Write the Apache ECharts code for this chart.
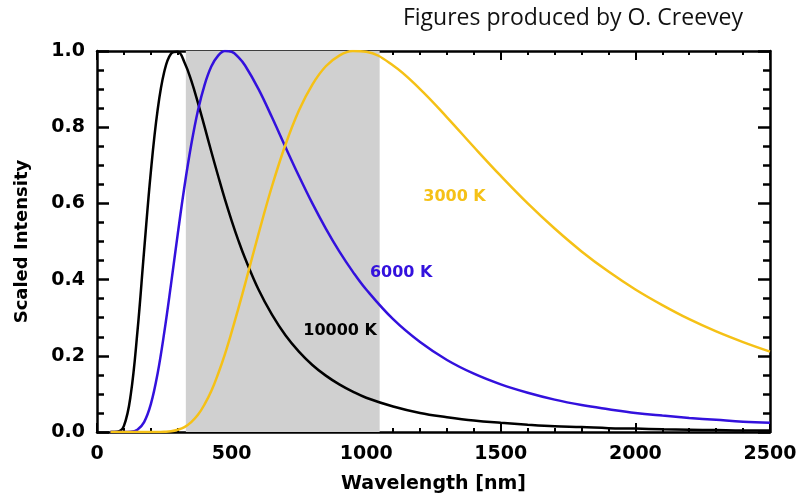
<!DOCTYPE html>
<html>
<head>
<meta charset="utf-8">
<script src="https://cdn.jsdelivr.net/npm/echarts@6/dist/echarts.min.js"></script>
<style>
  html, body { margin: 0; padding: 0; background: #fff; }
  #chart { width: 801px; height: 504px; }
</style>
</head>
<body>
<div id="chart"></div>
<script>
// Wavelength grid (nm)
const wavelength = [50, 75, 100, 125, 150, 175, 200, 225, 250, 275, 300, 325, 350, 375, 400, 425, 450, 475, 500, 525, 550,
  600, 650, 700, 750, 800, 850, 900, 950, 1000, 1100, 1200, 1300, 1400, 1500, 1600, 1700, 1800, 1900, 2000,
  2100, 2200, 2300, 2400, 2500];

// Peak-scaled black-body intensity at each wavelength
const intensity10000K = [0, 0.0006, 0.016, 0.096, 0.262, 0.476, 0.683, 0.844, 0.946, 0.993, 0.998, 0.970, 0.923, 0.864, 0.800, 0.735, 0.672, 0.611, 0.555, 0.503, 0.456,
  0.374, 0.308, 0.254, 0.211, 0.176, 0.148, 0.125, 0.106, 0.090, 0.067, 0.050, 0.039, 0.030, 0.024, 0.019, 0.015, 0.013, 0.010, 0.009,
  0.007, 0.006, 0.005, 0.004, 0.004];
const intensity6000K = [0, 0, 0, 0.0006, 0.006, 0.026, 0.073, 0.153, 0.262, 0.388, 0.520, 0.645, 0.754, 0.844, 0.912, 0.960, 0.988, 1.000, 0.998, 0.984, 0.962,
  0.900, 0.826, 0.748, 0.672, 0.600, 0.534, 0.474, 0.421, 0.374, 0.296, 0.236, 0.189, 0.153, 0.125, 0.103, 0.085, 0.071, 0.060, 0.050,
  0.043, 0.037, 0.032, 0.027, 0.024];
const intensity3000K = [0, 0, 0, 0, 0, 0, 0, 0, 0.0006, 0.002, 0.006, 0.013, 0.026, 0.045, 0.073, 0.108, 0.153, 0.204, 0.262, 0.324, 0.388,
  0.520, 0.645, 0.754, 0.844, 0.912, 0.960, 0.988, 1.000, 0.998, 0.962, 0.900, 0.826, 0.748, 0.672, 0.600, 0.534, 0.474, 0.421, 0.374,
  0.333, 0.296, 0.264, 0.236, 0.211];

// Shaded passband (nm)
const bandStart = 330;
const bandEnd = 1050;

// Curve labels: text, wavelength, intensity
const labelTexts = ['3000 K', '6000 K', '10000 K'];
const labelWavelength = [1328, 1130, 903];
const labelIntensity = [0.616, 0.418, 0.266];

const xTicks = { min: 0, max: 2500, interval: 500 };
const yTicks = { min: 0, max: 1.0, interval: 0.2 };

const BLACK = '#000000';
const BLUE = '#3311dd';
const GOLD = '#f5c116';
const labelColors = [GOLD, BLUE, BLACK];
const FONT = 'DejaVu Sans';

function pairs(vals) { return wavelength.map((w, i) => [w, vals[i]]); }

const chart = echarts.init(document.getElementById('chart'), null, { renderer: 'canvas' });

const axisLineStyle = { color: '#000', width: 2.5 };

function curve(name, vals, color, z) {
  return {
    name: name,
    type: 'line',
    data: pairs(vals),
    smooth: 0.4,
    showSymbol: false,
    symbol: 'none',
    clip: true,
    z: z,
    lineStyle: { color: color, width: 2.5 }
  };
}

const tickLabel = { fontFamily: FONT, fontWeight: 'bold', fontSize: 19, color: '#000' };

chart.setOption({
  animation: false,
  backgroundColor: '#fff',
  title: {
    text: 'Figures produced by O. Creevey',
    right: 53,
    top: 2,
    textStyle: { fontFamily: 'Open Sans', fontWeight: 'normal', fontSize: 23, color: '#111' }
  },
  grid: { left: 97, right: 31, top: 51, bottom: 72 },
  xAxis: [{
    type: 'value',
    min: xTicks.min, max: xTicks.max, interval: xTicks.interval,
    name: 'Wavelength [nm]',
    nameLocation: 'middle',
    nameGap: 43,
    nameTextStyle: { fontFamily: FONT, fontWeight: 'bold', fontSize: 19, color: '#000' },
    axisLine: { show: true, onZero: false, lineStyle: axisLineStyle },
    axisTick: { show: true, inside: true, length: 9, lineStyle: { color: '#000', width: 2 } },
    minorTick: { show: true, splitNumber: 5, length: 4, lineStyle: { color: '#000', width: 2 } },
    axisLabel: Object.assign({ margin: 13, showMinLabel: true, showMaxLabel: true, formatter: v => String(v) }, tickLabel),
    splitLine: { show: false }
  }, {
    type: 'value',
    position: 'top',
    min: xTicks.min, max: xTicks.max, interval: xTicks.interval,
    axisLine: { show: true, onZero: false, lineStyle: axisLineStyle },
    axisTick: { show: true, inside: true, length: 9, lineStyle: { color: '#000', width: 2 } },
    minorTick: { show: true, splitNumber: 5, length: 4, lineStyle: { color: '#000', width: 2 } },
    axisLabel: { show: false },
    splitLine: { show: false }
  }],
  yAxis: [{
    type: 'value',
    min: yTicks.min, max: yTicks.max, interval: yTicks.interval,
    name: 'Scaled Intensity',
    nameLocation: 'middle',
    nameGap: 66,
    nameRotate: 90,
    nameTextStyle: { fontFamily: FONT, fontWeight: 'bold', fontSize: 18, color: '#000' },
    axisLine: { show: true, onZero: false, lineStyle: axisLineStyle },
    axisTick: { show: true, inside: true, length: 12, lineStyle: { color: '#000', width: 2.5 } },
    minorTick: { show: true, splitNumber: 4, length: 7, lineStyle: { color: '#000', width: 2.5 } },
    axisLabel: Object.assign({ margin: 12, formatter: v => v.toFixed(1) }, tickLabel),
    splitLine: { show: false }
  }, {
    type: 'value',
    position: 'right',
    min: yTicks.min, max: yTicks.max, interval: yTicks.interval,
    axisLine: { show: true, onZero: false, lineStyle: axisLineStyle },
    axisTick: { show: true, inside: true, length: 12, lineStyle: { color: '#000', width: 2.5 } },
    minorTick: { show: true, splitNumber: 4, length: 7, lineStyle: { color: '#000', width: 2.5 } },
    axisLabel: { show: false },
    splitLine: { show: false }
  }],
  series: [
    {
      name: 'band',
      type: 'line',
      data: [],
      z: 1,
      markArea: {
        silent: true,
        itemStyle: { color: '#d0d0d0' },
        data: [[{ xAxis: bandStart, yAxis: 0 }, { xAxis: bandEnd, yAxis: 1 }]]
      }
    },
    curve('10000 K', intensity10000K, BLACK, 3),
    curve('6000 K', intensity6000K, BLUE, 4),
    curve('3000 K', intensity3000K, GOLD, 5),
    {
      name: 'curve labels',
      type: 'scatter',
      symbolSize: 0,
      silent: true,
      z: 6,
      itemStyle: { opacity: 1 },
      data: labelTexts.map((t, i) => ({
        value: [labelWavelength[i], labelIntensity[i]],
        label: {
          show: true,
          position: 'inside',
          formatter: t,
          color: labelColors[i],
          opacity: 1,
          textBorderWidth: 0,
          fontFamily: FONT,
          fontWeight: 'bold',
          fontSize: 16
        }
      }))
    }
  ]
});
</script>
</body>
</html>
